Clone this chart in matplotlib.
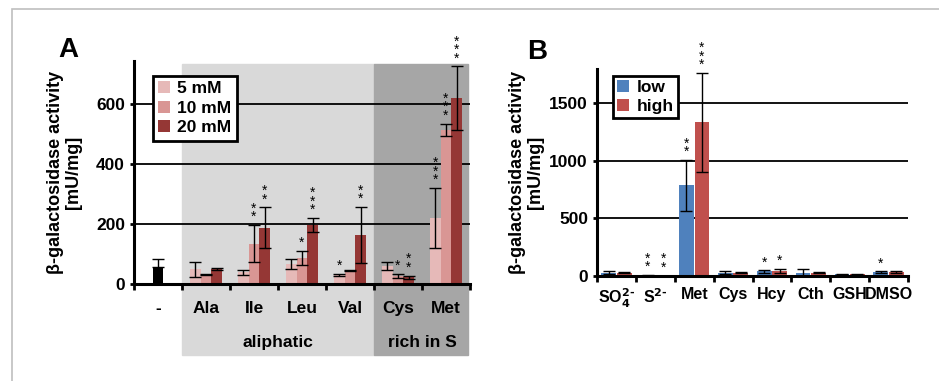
import matplotlib
matplotlib.use("Agg")
import matplotlib.pyplot as plt
import numpy as np
from matplotlib.patches import Rectangle

plt.rcParams['font.family'] = ['Liberation Sans', 'DejaVu Sans']
plt.rcParams['font.weight'] = 'bold'
plt.rcParams['axes.labelweight'] = 'bold'
plt.rcParams['mathtext.default'] = 'bf'

# panel A data
cats_a = ['-', 'Ala', 'Ile', 'Leu', 'Val', 'Cys', 'Met']
ctrl_val = 56
ctrl_err = 28
conc_labels = ['5 mM', '10 mM', '20 mM']
vals_5 = [49, 39, 67, 30, 60, 221]
err_5 = [24, 9, 18, 3, 12, 100]
vals_10 = [32, 135, 87, 45, 27, 515]
err_10 = [3, 62, 24, 1, 7, 21]
vals_20 = [51, 188, 197, 163, 23, 621]
err_20 = [3, 68, 24, 94, 5, 106]
stars_5 = [0, 0, 0, 1, 0, 3]
stars_10 = [0, 2, 1, 0, 1, 3]
stars_20 = [0, 2, 3, 2, 2, 3]

# panel B data
cats_b = [r'SO$_4^{2\text{-}}$', r'S$^{2\text{-}}$', 'Met', 'Cys', 'Hcy', 'Cth', 'GSH', 'DMSO']
low_vals = [29, 5, 787, 30, 40, 25, 15, 35]
low_err = [12, 2, 220, 10, 10, 32, 4, 5]
high_vals = [28, 3, 1333, 30, 45, 30, 15, 35]
high_err = [6, 1, 427, 5, 15, 5, 3, 5]
low_stars = [0, 2, 2, 0, 1, 0, 0, 1]
high_stars = [0, 2, 3, 0, 1, 0, 0, 0]

col_a = ['#e6b9b8', '#d99694', '#953735']
col_b = ['#4f81bd', '#c0504d']

fig = plt.figure(figsize=(9.39, 3.81), dpi=100)
fig.patches.append(Rectangle((12 / 939, -0.1), 1.2, 1 - 9 / 381 + 0.1, transform=fig.transFigure,
                             fill=False, edgecolor='#bfbfbf', lw=1.2))


def stars(ax, x, top, n, fs=10):
    if n:
        ax.text(x, top, '\n'.join(['*'] * n), ha='center', va='bottom', fontsize=fs,
                fontweight='normal', linespacing=0.5, clip_on=False)


def style(ax, ncat, fs=12):
    for s in ['top', 'right']:
        ax.spines[s].set_visible(False)
    for s in ['left', 'bottom']:
        ax.spines[s].set_linewidth(2.2)
    ax.set_xlim(-0.5, ncat - 0.5)
    ax.set_xticks(np.arange(ncat + 1) - 0.5, minor=True)
    ax.set_xticks(np.arange(ncat))
    ax.tick_params(axis='x', which='minor', length=4, width=2, direction='out')
    ax.tick_params(axis='x', which='major', length=0, pad=12, labelsize=fs)
    ax.tick_params(axis='y', length=3, width=2, labelsize=12.5)
    ax.set_facecolor('none')


# ---- A
ax = fig.add_axes([134 / 939, 1 - 284 / 381, 336 / 939, 223 / 381])
ax.set_ylim(0, 745)
ax.add_patch(Rectangle((0.5, -237), 4.0, 972, color='#d9d9d9', clip_on=False, zorder=0))
ax.add_patch(Rectangle((4.5, -237), 1.95, 972, color='#a6a6a6', clip_on=False, zorder=0))
for g in [200, 400, 600]:
    ax.axhline(g, color='black', lw=1.3, zorder=1)
w = 0.22
ax.bar(0, ctrl_val, w, color='black', zorder=2)
ax.errorbar(0, ctrl_val, yerr=[[0], [ctrl_err]], fmt='none', ecolor='black', capsize=4, lw=1, zorder=3)
xs = np.arange(1, 7)
series = [(vals_5, err_5, stars_5), (vals_10, err_10, stars_10), (vals_20, err_20, stars_20)]
for i, (v, e, st) in enumerate(series):
    xp = xs + (i - 1) * w
    ax.bar(xp, v, w, color=col_a[i], label=conc_labels[i], zorder=2)
    ax.errorbar(xp, v, yerr=e, fmt='none', ecolor='black', capsize=4, lw=1, zorder=3)
    for x, vv, ee, n in zip(xp, v, e, st):
        stars(ax, x, vv + ee + 3, n)
style(ax, 7, 12.5)
ax.set_xticklabels(cats_a)
ax.set_yticks([0, 200, 400, 600])
ax.text(2.5, -197, 'aliphatic', ha='center', va='center', fontsize=12.5)
ax.text(5.5, -197, 'rich in S', ha='center', va='center', fontsize=12.5)
ax.set_ylabel('β-galactosidase activity\n[mU/mg]', fontsize=13, labelpad=10, linespacing=1.05)
leg = ax.legend(loc='upper left', bbox_to_anchor=(153 / 939, 1 - 76 / 381), bbox_transform=fig.transFigure,
                fontsize=12.5, handlelength=0.7, handleheight=0.7, handletextpad=0.4, borderaxespad=0,
                borderpad=0.3, labelspacing=0.25, fancybox=False, framealpha=1)
leg.get_frame().set_edgecolor('black')
leg.get_frame().set_linewidth(2)
leg.set_zorder(5)
fig.text(68 / 939, 1 - 50 / 381, 'A', fontsize=20, ha='center', va='center')

# ---- B
bx = fig.add_axes([597 / 939, 1 - 276 / 381, 311 / 939, 207 / 381])
bx.set_ylim(0, 1795)
for g in [500, 1000, 1500]:
    bx.axhline(g, color='black', lw=1.3, zorder=1)
xb = np.arange(8)
wb = 0.4
for i, (v, e, st, lab) in enumerate([(low_vals, low_err, low_stars, 'low'),
                                     (high_vals, high_err, high_stars, 'high')]):
    xp = xb + (i - 0.5) * wb
    bx.bar(xp, v, wb * 0.95, color=col_b[i], label=lab, zorder=2)
    bx.errorbar(xp, v, yerr=e, fmt='none', ecolor='black', capsize=4, lw=1, zorder=3)
    for x, vv, ee, n in zip(xp, v, e, st):
        stars(bx, x, vv + ee + 8, n)
style(bx, 8, 11.5)
bx.tick_params(axis='x', which='major', pad=8)
bx.set_xticklabels(cats_b)
bx.set_yticks([0, 500, 1000, 1500])
bx.set_ylabel('β-galactosidase activity\n[mU/mg]', fontsize=13, labelpad=4, linespacing=1.05)
leg = bx.legend(loc='upper left', bbox_to_anchor=(613 / 939, 1 - 76 / 381), bbox_transform=fig.transFigure,
                fontsize=12.5, handlelength=0.7, handleheight=0.7, handletextpad=0.4, borderaxespad=0,
                borderpad=0.25, labelspacing=0.2, fancybox=False, framealpha=1)
leg.get_frame().set_edgecolor('black')
leg.get_frame().set_linewidth(2)
leg.set_zorder(5)
fig.text(537 / 939, 1 - 52 / 381, 'B', fontsize=20, ha='center', va='center')

fig.savefig('out.png', dpi=100)
